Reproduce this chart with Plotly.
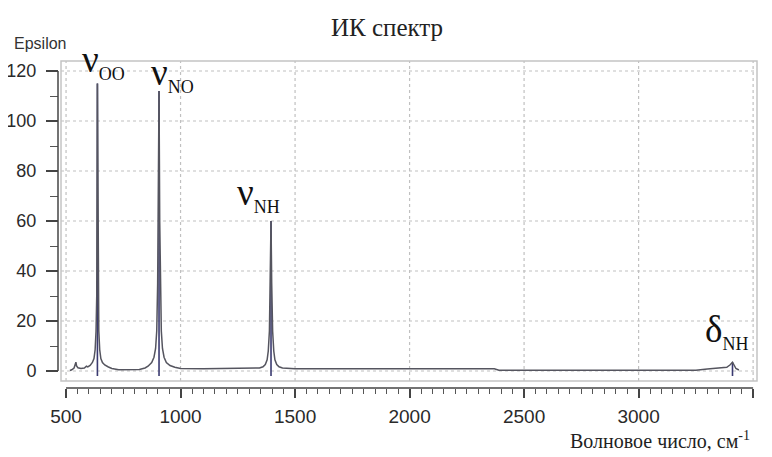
import plotly.graph_objects as go

# ---- data ----
wavenumber = [517, 525, 535, 540, 543, 546, 552, 565, 580, 595, 605,
              589, 615, 622, 627, 631, 634, 637, 640, 643, 647, 652, 659, 669, 685,
              700, 730, 780, 820, 845, 858, 874, 884, 891, 896, 900, 903, 906, 909,
              912, 916, 921, 928, 938, 954, 975, 1000, 1100, 1300, 1345, 1360, 1370,
              1378, 1383, 1388, 1392, 1395, 1398, 1402, 1407, 1412, 1420, 1430, 1445,
              1470, 1500, 2000, 2370, 2390, 2800, 3250, 3300, 3350, 3385, 3400, 3410,
              3418, 3425, 3438]
epsilon = [0.2, 0.5, 1.2, 2.5, 3.5, 2.0, 1.3, 1.0, 1.2, 1.6, 2.2,
           1.9, 3.4, 5.0, 8.5, 16, 30, 115, 30, 16, 8.5, 5.0, 3.4, 2.4, 1.6,
           1.0, 0.5, 0.4, 0.6, 1.2, 1.9, 3.4, 5.5, 9, 16, 35, 60, 112, 60,
           35, 16, 9, 5.5, 3.4, 2.2, 1.5, 1.0, 0.9, 0.9, 1.2, 1.7, 2.6,
           4.5, 8, 16, 35, 60, 35, 16, 8, 4.5, 2.6, 1.7, 1.2,
           1.0, 0.9, 0.9, 0.9, 0.3, 0.3, 0.3, 0.8, 1.2, 1.5, 2.5, 3.5,
           2.2, 1.0, 0.4]

peak_pos = [637, 906, 1395, 3410]
peak_height = [115, 112, 60, 3.5]
peak_symbol = ["ν", "ν", "ν", "δ"]
peak_sub = ["OO", "NO", "NH", "NH"]
label_x = [560, 861, 1236, 3281]
label_y = [114, 109, 61, 6]

x_ticks = [500, 1000, 1500, 2000, 2500, 3000, 3500]
y_ticks = [0, 20, 40, 60, 80, 100, 120]

pts = sorted(zip(wavenumber, epsilon))
cx = [p[0] for p in pts]
cy = [p[1] for p in pts]

# plot-area geometry (paper fractions)
XD0, YD0 = 0.0043, 0.0214

fig = go.Figure()

# sticks
sx, sy = [], []
for p, h in zip(peak_pos, peak_height):
    sx += [p, p, None]
    sy += [-2, h, None]
fig.add_trace(go.Scatter(x=sx, y=sy, mode="lines",
                         line=dict(color="#3a3a70", width=1.6),
                         hoverinfo="skip", showlegend=False))
# broadened spectrum
fig.add_trace(go.Scatter(x=cx, y=cy, mode="lines",
                         line=dict(color="#55555f", width=1.5),
                         showlegend=False))

xtickfont = dict(family="Liberation Sans Narrow, Liberation Sans, Arial", size=19, color="#2a2a2a")
ytickfont = dict(family="Liberation Sans Narrow, Liberation Sans, Arial", size=18, color="#2a2a2a")

shapes = []
# dotted grid inside the frame
for t in x_ticks:
    shapes.append(dict(type="line", xref="x", yref="paper", x0=t, x1=t, y0=YD0, y1=1,
                       line=dict(color="#c0c0c0", width=1.2, dash="dot"), layer="below"))
for t in y_ticks:
    shapes.append(dict(type="line", xref="paper", yref="y", x0=XD0, x1=1, y0=t, y1=t,
                       line=dict(color="#c0c0c0", width=1.2, dash="dot"), layer="below"))
# frame
shapes.append(dict(type="rect", xref="paper", yref="paper", x0=XD0, x1=1, y0=YD0, y1=1,
                   line=dict(color="#c4c4c4", width=1.5), layer="above"))
# axis lines spanning the tick range
shapes.append(dict(type="line", xref="x", yref="paper", x0=x_ticks[0], x1=x_ticks[-1], y0=0, y1=0,
                   line=dict(color="#444444", width=1.5)))
shapes.append(dict(type="line", xref="paper", yref="y", x0=0, x1=0, y0=y_ticks[0], y1=y_ticks[-1],
                   line=dict(color="#444444", width=1.5)))

# the page body adds an 8px offset, so the figure is laid out 8px smaller
fig.update_layout(
    template="none",
    width=764, height=449,
    margin=dict(l=50, r=15, t=53, b=69, autoexpand=False),
    paper_bgcolor="white", plot_bgcolor="rgba(0,0,0,0)",
    showlegend=False,
    xaxis=dict(domain=[XD0, 1], range=[478, 3517], anchor="free", position=0, automargin=False,
               tickvals=x_ticks, ticks="outside", ticklen=9, tickwidth=1.5, tickcolor="#444444",
               minor=dict(dtick=50, tick0=500, ticklen=5, tickwidth=1.2, tickcolor="#555555", showgrid=False),
               tickfont=xtickfont, showline=False, zeroline=False, showgrid=False, ticklabelstandoff=2),
    yaxis=dict(domain=[YD0, 1], range=[-4, 124], anchor="free", position=0, automargin=False,
               tickvals=y_ticks, ticks="outside", ticklen=12, tickwidth=1.5, tickcolor="#444444",
               minor=dict(dtick=10, tick0=0, ticklen=8, tickwidth=1.2, tickcolor="#555555", showgrid=False),
               tickfont=ytickfont, showline=False, zeroline=False, showgrid=False, ticklabelstandoff=6),
    shapes=shapes,
)

# title and axis labels
fig.add_annotation(text="ИК спектр", xref="paper", yref="paper", x=0.47, y=1.101,
                   xanchor="center", yanchor="middle", showarrow=False,
                   font=dict(family="Liberation Serif, Times New Roman", size=25, color="#222222"))
fig.add_annotation(text="Epsilon", xref="paper", yref="paper", x=-0.066, y=1.055,
                   xanchor="left", yanchor="middle", showarrow=False,
                   font=dict(family="Liberation Sans Narrow, Liberation Sans, Arial", size=16, color="#333333"))
fig.add_annotation(text="Волновое число, см<sup>-1</sup>", xref="paper", yref="paper", x=0.993, y=-0.159,
                   xanchor="right", yanchor="middle", showarrow=False,
                   font=dict(family="Liberation Serif, Times New Roman", size=20, color="#222222"))

# peak labels
for lx, ly, s, sub in zip(label_x, label_y, peak_symbol, peak_sub):
    fig.add_annotation(text=f"{s}<sub><span style='font-size:18px'>{sub}</span></sub>",
                       x=lx, y=ly, xref="x", yref="y", showarrow=False,
                       xanchor="left", yanchor="bottom",
                       font=dict(family="Liberation Serif, Times New Roman", size=37, color="#111111"))

fig.write_html("out.html")
